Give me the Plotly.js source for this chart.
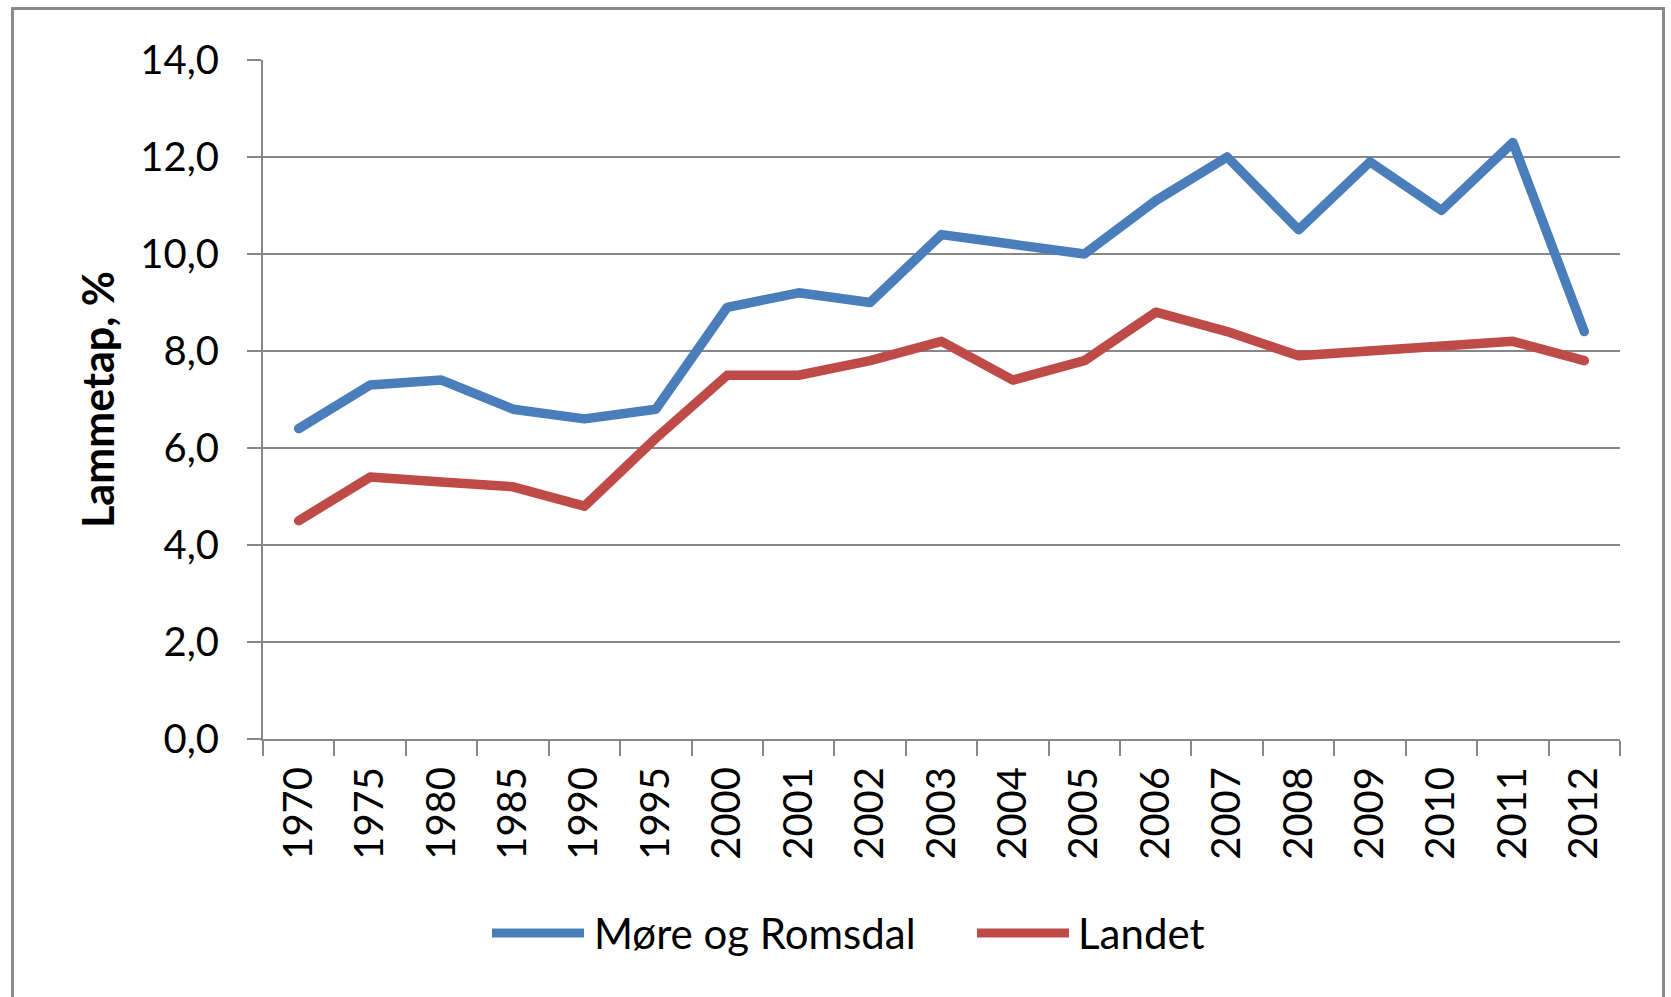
<!DOCTYPE html>
<html>
<head>
<meta charset="utf-8">
<script src="https://cdn.plot.ly/plotly-3.0.1.min.js"></script>
<style>
  html, body { margin: 0; padding: 0; background: #ffffff; width: 1671px; height: 997px; overflow: hidden; }
  #frame { position: absolute; left: 11px; top: 7px; width: 1654px; height: 1100px; border: 3px solid #8a8a8a; box-sizing: border-box; pointer-events: none; z-index: 2; }
  #chart { position: absolute; left: 0; top: 0; width: 1671px; height: 997px; }
  .js-line { stroke-linejoin: round; stroke-linecap: round; }
</style>
</head>
<body>
<div id="frame"></div>
<div id="chart"></div>
<script>
// ---- data ----
const years = ['1970','1975','1980','1985','1990','1995','2000','2001','2002','2003','2004','2005','2006','2007','2008','2009','2010','2011','2012'];
const moreOgRomsdal = [6.4, 7.3, 7.4, 6.8, 6.6, 6.8, 8.9, 9.2, 9.0, 10.4, 10.2, 10.0, 11.1, 12.0, 10.5, 11.9, 10.9, 12.3, 8.4];
const landet = [4.5, 5.4, 5.3, 5.2, 4.8, 6.2, 7.5, 7.5, 7.8, 8.2, 7.4, 7.8, 8.8, 8.4, 7.9, 8.0, 8.1, 8.2, 7.8];
const seriesNames = ['Møre og Romsdal', 'Landet'];
const yTitle = 'Lammetap, %';

// ---- style ----
const colors = ['#4a7ebb', '#be4b48'];
const W = 1671, H = 997;
const M = {l: 263, r: 51, t: 60, b: 258};
const PW = W - M.l - M.r, PH = H - M.t - M.b;
const px = x => (x - M.l) / PW;
const py = y => (M.t + PH - y) / PH;
const gray = '#878787';
const FONT = 'Lato, "Open Sans", sans-serif';

const traces = [moreOgRomsdal, landet].map((vals, i) => ({
  type: 'scatter', mode: 'lines', x: years, y: vals, name: seriesNames[i],
  line: {color: colors[i], width: 9.5}, showlegend: false, hoverinfo: 'x+y'
}));

// manual legend (long line samples like the original)
const legendItems = [
  {x0: 492, x1: 584, tx: 592},
  {x0: 977, x1: 1069, tx: 1076}
];
const legY = 933;
const shapes = legendItems.map((it, i) => ({
  type: 'line', xref: 'paper', yref: 'paper',
  x0: px(it.x0), x1: px(it.x1), y0: py(legY), y1: py(legY),
  line: {color: colors[i], width: 9}
}));
const annotations = legendItems.map((it, i) => ({
  xref: 'paper', yref: 'paper', x: px(it.tx), y: py(legY),
  xanchor: 'left', yanchor: 'middle', showarrow: false,
  text: seriesNames[i], font: {family: FONT, size: 42, color: '#000'}
}));

const layout = {
  width: W, height: H,
  margin: M,
  paper_bgcolor: 'rgba(0,0,0,0)', plot_bgcolor: 'rgba(0,0,0,0)',
  separators: ', ',
  showlegend: false,
  font: {family: FONT, color: '#000'},
  xaxis: {
    type: 'category', tickson: 'boundaries', ticks: 'outside', ticklen: 15, tickwidth: 2, tickcolor: gray,
    showline: true, linecolor: gray, linewidth: 2, showgrid: false, zeroline: false,
    tickangle: -90, tickfont: {family: FONT, size: 40, color: '#000'},
    ticklabelstandoff: 10, range: [-0.5, years.length - 0.5], fixedrange: true
  },
  yaxis: {
    range: [0, 14], dtick: 2, tick0: 0, tickformat: '.1f',
    ticks: 'outside', ticklen: 14, tickwidth: 2, tickcolor: gray,
    showline: true, linecolor: gray, linewidth: 2,
    showgrid: true, gridcolor: gray, gridwidth: 2, zeroline: false,
    tickfont: {family: FONT, size: 40, color: '#000'},
    ticklabelstandoff: 20,
    title: {text: '<b>' + yTitle + '</b>', font: {family: FONT, size: 43, color: '#000'}, standoff: 12},
    fixedrange: true
  },
  shapes: shapes,
  annotations: annotations
};

Plotly.newPlot('chart', traces, layout, {displayModeBar: false, staticPlot: true});
</script>
</body>
</html>
